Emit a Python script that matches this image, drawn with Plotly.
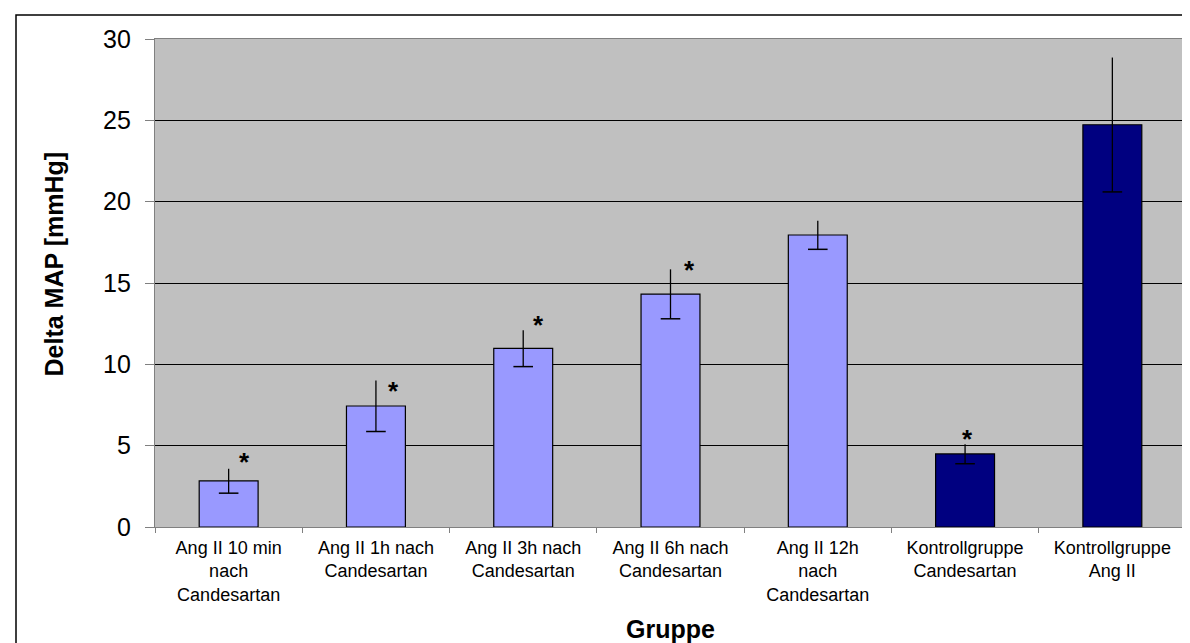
import plotly.graph_objects as go

categories = [
    "Ang II 10 min<br>nach<br>Candesartan",
    "Ang II 1h nach<br>Candesartan",
    "Ang II 3h nach<br>Candesartan",
    "Ang II 6h nach<br>Candesartan",
    "Ang II 12h<br>nach<br>Candesartan",
    "Kontrollgruppe<br>Candesartan",
    "Kontrollgruppe<br>Ang II",
]
values = [2.83, 7.44, 10.98, 14.32, 17.95, 4.49, 24.73]
errors = [0.75, 1.57, 1.12, 1.52, 0.88, 0.60, 4.13]
group = ["Ang", "Ang", "Ang", "Ang", "Ang", "Kontroll", "Kontroll"]

# significance markers: category index and label height (data units)
star_idx = [0, 1, 2, 3, 5]
star_y = [4.46, 8.87, 12.9, 16.29, 5.9]
star_dx = [16, 18, 15, 19, 2]  # pixel offset to the right of bar center

y_ticks = [0, 5, 10, 15, 20, 25, 30]

color_map = {"Ang": "#9999FF", "Kontroll": "#000080"}
bar_colors = [color_map[g] for g in group]

FONT = "Liberation Sans, Arial, sans-serif"

fig = go.Figure()
fig.add_trace(go.Bar(
    x=categories, y=values,
    marker=dict(color=bar_colors, line=dict(color="black", width=1.2)),
    error_y=dict(type="data", array=errors, visible=True, color="black",
                 thickness=1.3, width=0),
    showlegend=False, hoverinfo="skip",
))
# lower caps of error bars only (as in the original)
fig.add_trace(go.Scatter(
    x=categories, y=[v - e for v, e in zip(values, errors)],
    mode="markers",
    marker=dict(symbol="line-ew", size=14, line=dict(color="black", width=1.5)),
    showlegend=False, hoverinfo="skip",
))

annotations = []
for i, yv, dx in zip(star_idx, star_y, star_dx):
    annotations.append(dict(
        x=categories[i], y=yv, xref="x", yref="y", text="<b>*</b>", showarrow=False,
        xshift=dx, yshift=-8, font=dict(family=FONT, size=26, color="black"),
        xanchor="center", yanchor="middle",
    ))

W, H = 1190, 643
L, R, T, B = 147, 12, 31, 124
pw, ph = W - L - R, H - T - B

annotations.append(dict(
    x=(45.5 - L) / pw, y=(H - B - 256) / ph, xref="paper", yref="paper",
    text="<b>Delta MAP [mmHg]</b>", showarrow=False, textangle=-90,
    font=dict(family=FONT, size=25, color="black"),
    xanchor="center", yanchor="middle",
))
annotations.append(dict(
    x=0.5, y=-(621 - (H - B)) / ph, xref="paper", yref="paper",
    text="<b>Gruppe</b>", showarrow=False,
    font=dict(family=FONT, size=25, color="black"),
    xanchor="center", yanchor="middle",
))

shapes = [dict(
    type="rect", xref="paper", yref="paper",
    x0=(8 - L) / pw, x1=(1189 - L) / pw,
    y0=-(646 - (H - B)) / ph, y1=1 + (T - 7) / ph,
    line=dict(color="black", width=1.5), fillcolor="rgba(0,0,0,0)", layer="below",
)]

fig.update_layout(
    width=W, height=H,
    margin=dict(l=L, r=R, t=T, b=B, autoexpand=False),
    paper_bgcolor="white", plot_bgcolor="#C0C0C0",
    bargap=0.6,
    font=dict(family=FONT, color="black"),
    annotations=annotations, shapes=shapes,
    xaxis=dict(
        type="category", tickson="boundaries", ticks="outside", ticklen=5,
        tickcolor="#808080", showline=True, linecolor="#808080", linewidth=1.2,
        mirror=True, showgrid=False, tickfont=dict(family=FONT, size=18, color="black"),
        ticklabelstandoff=4,
    ),
    yaxis=dict(
        range=[0, 30], tickvals=y_ticks, ticks="outside", ticklen=9,
        tickcolor="#808080", showline=True, linecolor="#808080", linewidth=1.2,
        mirror=True, showgrid=True, gridcolor="black", gridwidth=1,
        zeroline=False, tickfont=dict(family=FONT, size=25, color="black"),
        ticklabelstandoff=9,
    ),
)

fig.write_html("out.html")
